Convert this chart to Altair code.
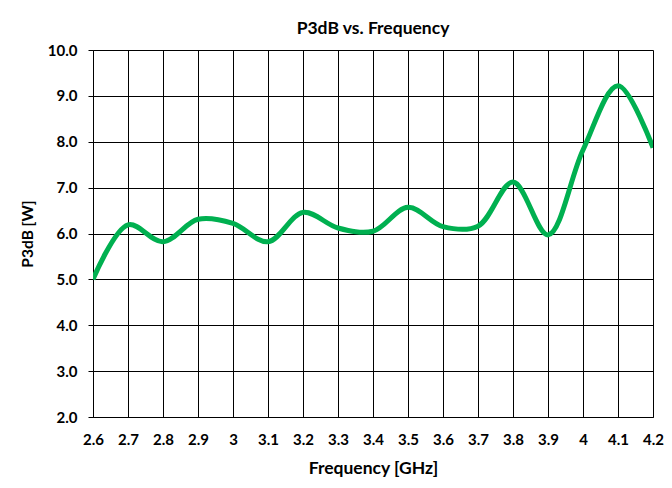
import altair as alt
import pandas as pd

freq_ghz = [2.6, 2.7, 2.8, 2.9, 3.0, 3.1, 3.2, 3.3, 3.4, 3.5, 3.6, 3.7, 3.8, 3.9, 4.0, 4.1, 4.2]
p3db_w = [5.0, 6.19, 5.82, 6.31, 6.22, 5.82, 6.46, 6.12, 6.05, 6.57, 6.15, 6.16, 7.12, 5.97, 7.82, 9.22, 7.87]
x_ticks = [2.6, 2.7, 2.8, 2.9, 3.0, 3.1, 3.2, 3.3, 3.4, 3.5, 3.6, 3.7, 3.8, 3.9, 4.0, 4.1, 4.2]
y_ticks = [2.0, 3.0, 4.0, 5.0, 6.0, 7.0, 8.0, 9.0, 10.0]

df = pd.DataFrame({"freq": freq_ghz, "p3db": p3db_w})

FONT = "Lato"

chart = (
    alt.Chart(df)
    .mark_line(color="#00B050", strokeWidth=5, interpolate="catmull-rom", clip=True)
    .encode(
        x=alt.X(
            "freq:Q",
            scale=alt.Scale(domain=[2.6, 4.2], nice=False, zero=False),
            axis=alt.Axis(
                title="Frequency [GHz]",
                values=x_ticks,
                labelExpr="'' + datum.value",
                ticks=False,
                labelPadding=15,
                titlePadding=12,
                labelFontSize=15,
                labelFontWeight="bold",
                titleFontSize=17.5,
                titleFontWeight="bold",
                labelFont=FONT,
                titleFont=FONT,
                labelColor="#000",
                titleColor="#000",
                domainColor="#000",
                gridColor="#000",
                gridWidth=1,
                labelFlush=False,
            ),
        ),
        y=alt.Y(
            "p3db:Q",
            scale=alt.Scale(domain=[2.0, 10.0], nice=False, zero=False),
            axis=alt.Axis(
                title="P3dB [W]",
                values=y_ticks,
                format=".1f",
                tickSize=5,
                tickColor="#000",
                labelPadding=11,
                titlePadding=12,
                labelFontSize=15,
                labelFontWeight="bold",
                titleFontSize=15.5,
                titleFontWeight="bold",
                labelFont=FONT,
                titleFont=FONT,
                labelColor="#000",
                titleColor="#000",
                domainColor="#000",
                gridColor="#000",
                gridWidth=1,
            ),
        ),
    )
    .properties(
        width=560,
        height=367,
        title=alt.TitleParams(
            "P3dB vs. Frequency",
            font=FONT,
            fontSize=17.5,
            fontWeight="bold",
            color="#000",
            offset=6,
        ),
        autosize=alt.AutoSizeParams(type="none"),
        padding={"left": 85, "top": 42, "right": 11, "bottom": 63},
    )
    .configure_view(stroke="#000", strokeWidth=1)
    .configure(background="white")
)

chart.save("out.html", embed_options={"renderer": "svg", "actions": False})
